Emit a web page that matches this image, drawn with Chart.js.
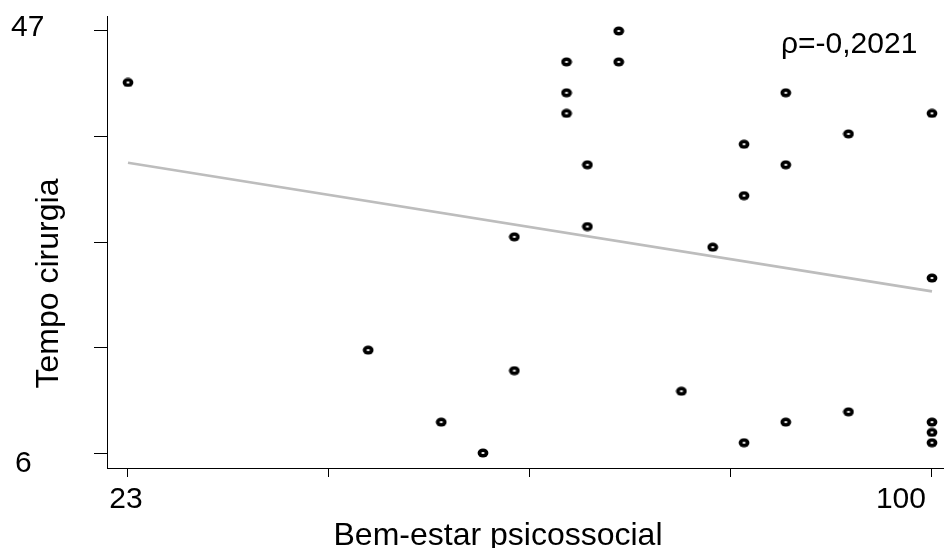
<!DOCTYPE html>
<html>
<head>
<meta charset="utf-8">
<script src="https://cdn.jsdelivr.net/npm/chart.js@4/dist/chart.umd.min.js"></script>
<style>
  html, body { margin: 0; padding: 0; background: #fff; }
  canvas { display: block; }
</style>
</head>
<body>
<canvas id="c" width="944" height="548"></canvas>
<script>
// ---- data ----
const bemEstar = [23, 70, 70, 65, 65, 65, 67, 67, 60, 86, 100, 92, 82, 86, 82, 79, 100, 46, 60, 53, 57, 76, 82, 86, 92, 100, 100, 100];
const tempoCirurgia = [42, 47, 44, 44, 41, 39, 34, 28, 27, 41, 39, 37, 36, 34, 31, 26, 23, 16, 14, 9, 6, 12, 7, 9, 10, 9, 8, 7];
const fitX = [23, 100];
const fitY = [34.2, 21.7];
const xTicks = [23, 42.25, 61.5, 80.75, 100];
const yTicks = [6, 16.25, 26.5, 36.75, 47];
const xTickLabels = ['23', '', '', '', '100'];
const yTickLabels = ['6', '', '', '', '47'];
const xTitle = 'Bem-estar psicossocial';
const yTitle = 'Tempo cirurgia';
const rhoText = 'ρ=-0,2021';

const FONT = '"Liberation Sans", Arial, Helvetica, sans-serif';

// ring marker (slightly elliptical, black with tiny white centre)
const marker = document.createElement('canvas');
marker.width = 12; marker.height = 10;
(function () {
  const m = marker.getContext('2d');
  m.fillStyle = '#000';
  m.beginPath(); m.ellipse(6, 5, 5.4, 4.5, 0, 0, Math.PI * 2); m.fill();
  m.fillStyle = '#fff';
  m.beginPath(); m.ellipse(6, 5, 1.7, 1.1, 0, 0, Math.PI * 2); m.fill();
})();

const overlay = {
  id: 'overlay',
  afterDraw(chart) {
    const { ctx } = chart;
    const xs = chart.scales.x, ys = chart.scales.y;
    ctx.save();
    ctx.fillStyle = '#000';
    ctx.font = '30px ' + FONT;
    // y tick labels
    ctx.textBaseline = 'middle';
    ctx.textAlign = 'left';
    yTicks.forEach((v, i) => {
      const lab = yTickLabels[i];
      if (!lab) return;
      const p = ys.getPixelForValue(v);
      if (i === 0) ctx.fillText(lab, 15, p + 11);
      else ctx.fillText(lab, 11, p - 3);
    });
    // x tick labels
    ctx.textBaseline = 'alphabetic';
    xTicks.forEach((v, i) => {
      const lab = xTickLabels[i];
      if (!lab) return;
      const p = xs.getPixelForValue(v);
      if (i === xTicks.length - 1) { ctx.textAlign = 'right'; ctx.fillText(lab, p - 6, 508); }
      else { ctx.textAlign = 'center'; ctx.fillText(lab, p - 2, 508); }
    });
    // rho annotation
    ctx.textAlign = 'left';
    ctx.fillText(rhoText, 781, 53);
    // axis titles
    ctx.font = '32px ' + FONT;
    ctx.textAlign = 'center';
    ctx.fillText(xTitle, 498, 545);
    ctx.translate(58, 283.5);
    ctx.rotate(-Math.PI / 2);
    ctx.fillText(yTitle, 0, 0);
    ctx.restore();
  }
};

new Chart(document.getElementById('c'), {
  type: 'scatter',
  data: {
    datasets: [
      {
        type: 'line',
        data: fitX.map((x, i) => ({ x, y: fitY[i] })),
        borderColor: '#bdbdbd',
        borderWidth: 2.6,
        pointRadius: 0,
        fill: false,
        order: 2
      },
      {
        data: bemEstar.map((x, i) => ({ x, y: tempoCirurgia[i] })),
        pointStyle: marker,
        pointRadius: 5,
        order: 1
      }
    ]
  },
  options: {
    responsive: false,
    animation: false,
    devicePixelRatio: 1,
    layout: { autoPadding: false, padding: { top: 16, left: 0, right: 0, bottom: 0 } },
    plugins: { legend: { display: false }, tooltip: { enabled: false } },
    scales: {
      x: {
        type: 'linear',
        min: 20.99,
        max: 101.15,
        afterBuildTicks: s => { s.ticks = xTicks.map(v => ({ value: v })); },
        afterFit: s => { s.height = 80; },
        ticks: { display: false },
        grid: { drawOnChartArea: false, drawTicks: true, tickLength: 9, color: '#000', lineWidth: 1 },
        border: { display: true, color: '#000', width: 1 }
      },
      y: {
        type: 'linear',
        min: 4.543,
        max: 48.457,
        afterBuildTicks: s => { s.ticks = yTicks.map(v => ({ value: v })); },
        afterFit: s => { s.width = 107; },
        ticks: { display: false },
        grid: { drawOnChartArea: false, drawTicks: true, tickLength: 13, color: '#000', lineWidth: 1 },
        border: { display: true, color: '#000', width: 1 }
      }
    }
  },
  plugins: [overlay]
});
</script>
</body>
</html>
